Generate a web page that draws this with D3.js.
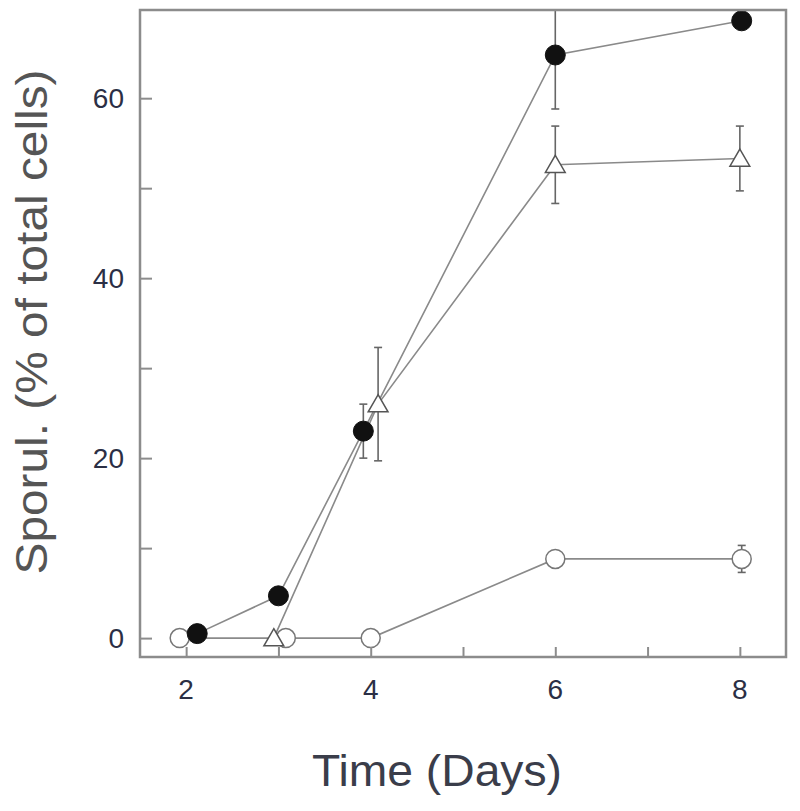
<!DOCTYPE html>
<html>
<head>
<meta charset="utf-8">
<script src="https://cdn.jsdelivr.net/npm/d3@7"></script>
<style>
  body { margin: 0; background: #fff; }
  svg { display: block; font-family: "Liberation Sans", Arial, sans-serif; }
</style>
</head>
<body>
<svg width="800" height="811"></svg>
<script>
// data
const filledX = [2.12, 3.0, 3.92, 6.0, 8.02];
const filledY = [0.5, 4.7, 23.0, 64.8, 68.6];
const filledErr = [0, 0, 3.0, 6.0, 0];

const triX = [2.95, 4.08, 6.0, 8.0];
const triY = [0, 26.0, 52.6, 53.3];
const triErr = [0, 6.3, 4.3, 3.6];

const openX = [1.93, 3.08, 4.0, 6.0, 8.02];
const openY = [0, 0, 0, 8.8, 8.8];
const openErr = [0, 0, 0, 0, 1.5];

const xTicks = [2, 3, 4, 5, 6, 7, 8];
const xLabels = [2, 4, 6, 8];
const yTicks = [0, 10, 20, 30, 40, 50, 60];
const yLabels = [0, 20, 40, 60];

const svg = d3.select("svg");
const m = { left: 140, right: 786, top: 10, bottom: 657 };

const x = d3.scaleLinear().domain([1.5, 8.5]).range([m.left, m.right]);
const y = d3.scaleLinear().domain([-2.1, 69.8]).range([m.bottom, m.top]);

const lineCol = "#8a8a8a";
const axisCol = "#8c8c8c";

const zip = (xs, ys, es) => xs.map((v, i) => ({ x: v, y: ys[i], e: es[i] }));
const filled = zip(filledX, filledY, filledErr);
const tri = zip(triX, triY, triErr);
const open = zip(openX, openY, openErr);

const plot = svg.append("g");
plot.append("clipPath").attr("id", "clip")
  .append("rect").attr("x", m.left).attr("y", m.top)
  .attr("width", m.right - m.left).attr("height", m.bottom - m.top);

const line = d3.line().x(d => x(d.x)).y(d => y(d.y));

// connecting lines
[open, tri, filled].forEach(s => {
  plot.append("path").datum(s)
    .attr("d", line)
    .attr("fill", "none")
    .attr("stroke", lineCol)
    .attr("stroke-width", 1.6);
});

// error bars
const bars = plot.append("g").attr("clip-path", "url(#clip)");
[filled, tri, open].forEach(s => {
  s.filter(d => d.e > 0).forEach(d => {
    const g = bars.append("g").attr("stroke", "#666").attr("stroke-width", 1.6);
    g.append("line").attr("x1", x(d.x)).attr("x2", x(d.x))
      .attr("y1", y(d.y - d.e)).attr("y2", y(d.y + d.e));
    [d.y - d.e, d.y + d.e].forEach(v => {
      g.append("line").attr("x1", x(d.x) - 4).attr("x2", x(d.x) + 4)
        .attr("y1", y(v)).attr("y2", y(v));
    });
  });
});

// markers
plot.selectAll(".open").data(open).join("circle")
  .attr("cx", d => x(d.x)).attr("cy", d => y(d.y)).attr("r", 9.5)
  .attr("fill", "#fff").attr("stroke", "#777").attr("stroke-width", 1.5);

plot.selectAll(".tri").data(tri).join("path")
  .attr("transform", d => `translate(${x(d.x)},${y(d.y) + 2})`)
  .attr("d", d3.symbol().type(d3.symbolTriangle).size(170))
  .attr("fill", "#fff").attr("stroke", "#555").attr("stroke-width", 1.5);

plot.selectAll(".filled").data(filled).join("circle")
  .attr("cx", d => x(d.x)).attr("cy", d => y(d.y)).attr("r", 10)
  .attr("fill", "#111").attr("stroke", "#111");

// frame
svg.append("rect")
  .attr("x", m.left).attr("y", m.top)
  .attr("width", m.right - m.left).attr("height", m.bottom - m.top)
  .attr("fill", "none").attr("stroke", axisCol).attr("stroke-width", 2.5);

// axes with inward ticks
const xAxis = svg.append("g").attr("transform", `translate(0,${m.bottom})`)
  .call(d3.axisTop(x).tickValues(xTicks).tickSize(10).tickFormat(""));
xAxis.select(".domain").remove();
xAxis.selectAll("line").attr("stroke", axisCol).attr("stroke-width", 2);

svg.append("g").selectAll("text").data(xLabels).join("text")
  .attr("x", d => x(d)).attr("y", m.bottom + 42)
  .attr("text-anchor", "middle")
  .attr("font-size", 28).attr("fill", "#2b2f45")
  .text(d => d);

const yAxis = svg.append("g").attr("transform", `translate(${m.left},0)`)
  .call(d3.axisRight(y).tickValues(yTicks).tickSize(12).tickFormat(""));
yAxis.select(".domain").remove();
yAxis.selectAll("line").attr("stroke", axisCol).attr("stroke-width", 2);

svg.append("g").selectAll("text").data(yLabels).join("text")
  .attr("x", m.left - 16).attr("y", d => y(d) + 10)
  .attr("text-anchor", "end")
  .attr("font-size", 28).attr("fill", "#2b2f45")
  .text(d => d);

// titles
svg.append("text")
  .attr("x", 437).attr("y", 786)
  .attr("text-anchor", "middle")
  .attr("font-size", 44).attr("fill", "#3a3d4a")
  .attr("textLength", 250).attr("lengthAdjust", "spacingAndGlyphs")
  .text("Time (Days)");

svg.append("text")
  .attr("transform", "translate(47,322) rotate(-90)")
  .attr("text-anchor", "middle")
  .attr("font-size", 45).attr("fill", "#555")
  .attr("textLength", 505).attr("lengthAdjust", "spacingAndGlyphs")
  .text("Sporul. (% of total cells)");
</script>
</body>
</html>
